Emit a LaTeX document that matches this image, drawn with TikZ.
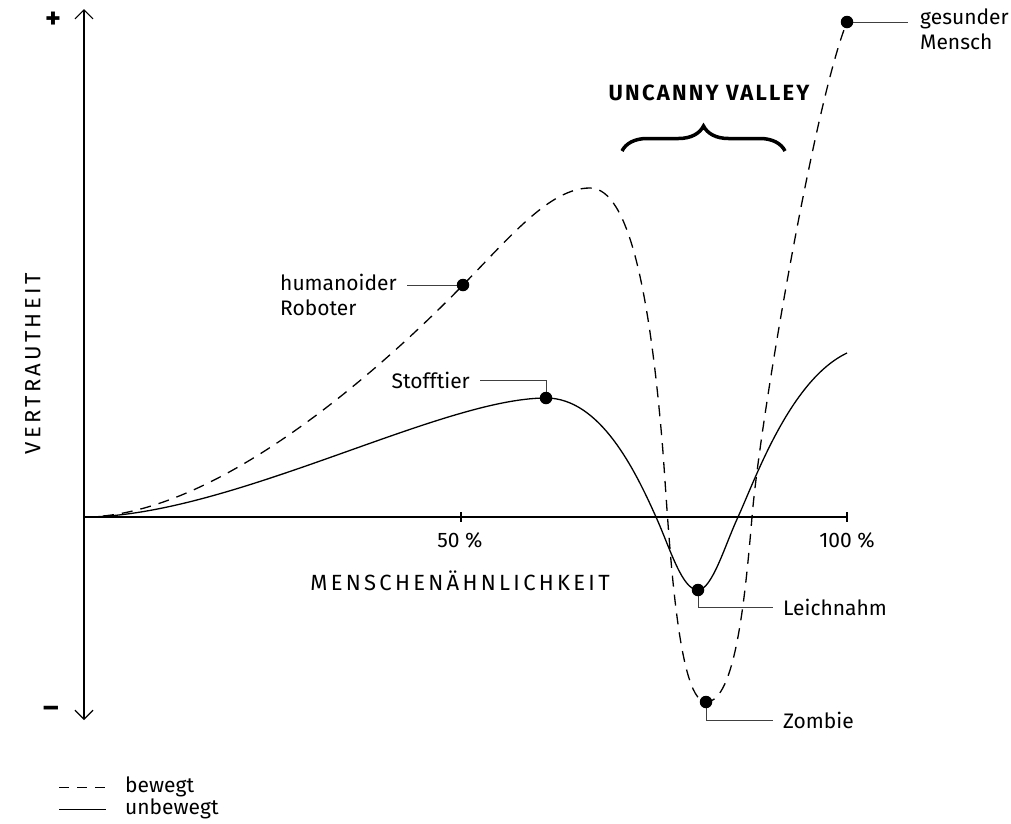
\documentclass[tikz,border=0pt]{standalone}
\usepackage{fontspec}
\setmainfont{Fira Sans}
\newfontfamily\capsfont{Fira Sans}[LetterSpace=15]
\newfontfamily\titlefont{Fira Sans}[LetterSpace=10]
\usetikzlibrary{arrows.meta,decorations.pathreplacing}

\tikzset{
  axis/.style={line width=1.2pt},
  curve/.style={line width=1.3pt},
  moving/.style={curve, dash pattern=on 11pt off 8pt},
  leader/.style={line width=1pt, black!75},
  dot/.style={circle, fill=black, inner sep=0pt, minimum size=12.5pt},
  lbl/.style={font=\fontsize{21}{25}\selectfont, inner sep=0pt, align=left},
  axlbl/.style={font=\fontsize{22}{26}\selectfont\capsfont, inner sep=0pt},
}

\begin{document}
\begin{tikzpicture}[x=1pt,y=-1pt]
\useasboundingbox (0,0) rectangle (1011,823);

% axes
\coordinate (origin) at (84,517);
\coordinate (ytop) at (84,9);
\coordinate (ybot) at (84,720);
\coordinate (half) at (461,517);
\coordinate (full) at (847,517);
\draw[axis, -{Straight Barb[length=9pt,width=18pt]}] (origin) -- (ytop);
\draw[axis, -{Straight Barb[length=9pt,width=18pt]}] (origin) -- (ybot);
\draw[axis] (origin) -- (full);
\draw[axis] ([yshift=5pt]half) -- ([yshift=-5pt]half);
\draw[axis] ([yshift=5pt]full) -- ([yshift=-5pt]full);

\node[lbl, font=\fontsize{30}{30}\selectfont\bfseries] (plus) at (53,20) {+};
\node[lbl, font=\fontsize{30}{30}\selectfont\bfseries] (minus) at (51,712) {–};
\node[lbl] (halflbl) at (460,540) {50 \%};
\node[lbl] (fulllbl) at (847,540) {100 \%};
\node[axlbl] (xlbl) at (460,581) {MENSCHENÄHNLICHKEIT};
\node[axlbl, rotate=90] (ylbl) at (33,364) {VERTRAUTHEIT};

% points
\coordinate (robot) at (463,285);
\coordinate (dpeak) at (590,188);
\coordinate (stofftier) at (546,398);
\coordinate (leichnam) at (698,590);
\coordinate (zombie) at (706,702);
\coordinate (mensch) at (847,22);

% bewegt
\draw[moving] (origin) .. controls (220,517) and (390,360) .. (robot)
  .. controls (510,237) and (550,188) .. (dpeak)
  .. controls (630,188) and (650,300) .. (662,440)
  .. controls (668,510) and (675,702) .. (zombie)
  .. controls (735,702) and (745,600) .. (752,517)
  .. controls (760,420) and (815,100) .. (mensch);

% unbewegt
\draw[curve] (origin) .. controls (230,517) and (440,398) .. (stofftier)
  .. controls (600,398) and (635,470) .. (656,517)
  .. controls (670,548) and (682,590) .. (leichnam)
  .. controls (712,590) and (725,545) .. (738,517)
  .. controls (755,480) and (790,380) .. (847,353);

% labels
\node[lbl, anchor=north west] (robotlbl) at (280,274) {humanoider\\Roboter};
\node[lbl, anchor=east] (stofflbl) at (470,380) {Stofftier};
\node[lbl, anchor=west] (leichlbl) at (783,607) {Leichnahm};
\node[lbl, anchor=west] (zomblbl) at (783,720) {Zombie};
\node[lbl, anchor=north west] (menschlbl) at (920,9) {gesunder\\Mensch};

\draw[leader] (robot) -- ([xshift=10pt]robot -| robotlbl.east);
\draw[leader] ([xshift=10pt]stofflbl.east) -| (stofftier);
\draw[leader] (leichnam) |- ([xshift=-10pt]leichlbl.west);
\draw[leader] (zombie) |- ([xshift=-10pt]zomblbl.west);
\draw[leader] (mensch) -- ([xshift=-12pt]mensch -| menschlbl.west);

\foreach \p in {robot,stofftier,leichnam,zombie,mensch}
  \node[dot] (\p dot) at (\p) {};

% uncanny valley
\node[lbl, font=\fontsize{22}{26}\selectfont\titlefont\bfseries] (uv) at (709,93) {UNCANNY VALLEY};
\coordinate (bl) at (622,151);
\coordinate (br) at (785,151);
\draw[line width=3.5pt, decorate, decoration={brace, amplitude=25pt}] (bl) -- (br);

% legend
\node[lbl, anchor=west] (bewegt) at (125,787) {bewegt};
\node[lbl, anchor=west] (unbewegt) at (125,809) {unbewegt};
\draw[leader, black, dash pattern=on 10pt off 8pt] ([xshift=-66pt]bewegt.west) -- ([xshift=-19pt]bewegt.west);
\draw[leader, black] ([xshift=-66pt]unbewegt.west) -- ([xshift=-19pt]unbewegt.west);
\end{tikzpicture}
\end{document}
